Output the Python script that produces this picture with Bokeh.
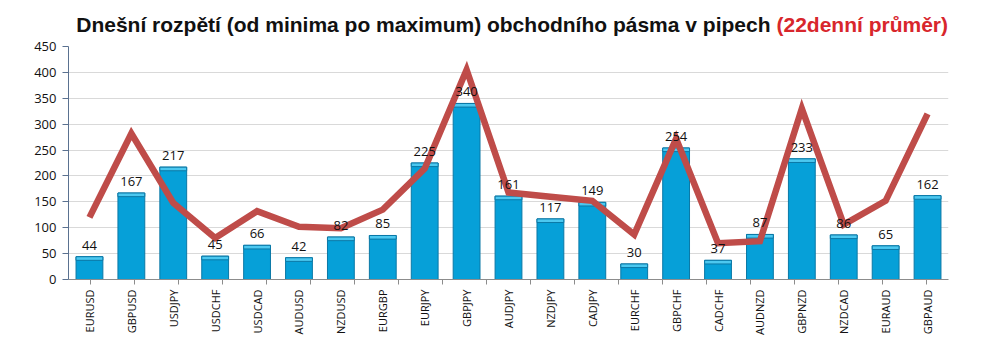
import numpy as np
from bokeh.plotting import figure
from bokeh.layouts import column
from bokeh.models import (FactorRange, Range1d, FixedTicker, CategoricalAxis, ColumnDataSource)
from bokeh.core.properties import value
from bokeh.embed import file_html
from bokeh.resources import INLINE

pairs = ["EURUSD", "GBPUSD", "USDJPY", "USDCHF", "USDCAD", "AUDUSD", "NZDUSD", "EURGBP",
         "EURJPY", "GBPJPY", "AUDJPY", "NZDJPY", "CADJPY", "EURCHF", "GBPCHF", "CADCHF",
         "AUDNZD", "GBPNZD", "NZDCAD", "EURAUD", "GBPAUD"]
today_range = [44, 167, 217, 45, 66, 42, 82, 85, 225, 340, 161, 117, 149, 30, 254, 37,
               87, 233, 86, 65, 162]
avg_22 = [120, 282, 148, 80, 132, 102, 99, 135, 214, 405, 168, 160, 152, 87, 272, 70,
          74, 330, 106, 152, 320]
y_ticks = [0, 50, 100, 150, 200, 250, 300, 350, 400, 450]
title_main = "Dnešní rozpětí (od minima po maximum) obchodního pásma v pipech"
title_red = "(22denní průměr)"

W = 996
BL, BR = 68, 48  # chart borders (the column aligns the title strip's frame to these)

# ---- title strip ----
th = 37
tf = figure(width=W, height=th, x_range=Range1d(BL, W - BR), y_range=Range1d(0, th),
            output_backend="svg", toolbar_location=None, x_axis_location=None,
            y_axis_location=None, min_border=0, min_border_left=BL, min_border_right=BR,
            outline_line_color=None,
            background_fill_color="white", border_fill_color="white")
tf.xgrid.visible = False
tf.ygrid.visible = False
tf.text(x=[770], y=[13], text=[title_main], text_align="right", text_baseline="middle",
        text_font=value("Liberation Sans"), text_font_style="bold", text_font_size="21px",
        text_color="#111111")
tf.text(x=[776], y=[13], text=[title_red], text_align="left", text_baseline="middle",
        text_font=value("Liberation Sans"), text_font_style="bold", text_font_size="21px",
        text_color="#d8262c")

# ---- chart ----
src = ColumnDataSource(dict(pair=pairs, val=today_range, avg=avg_22,
                            cap=[v - 7 for v in today_range],
                            lab=[str(v) for v in today_range]))

p = figure(x_range=FactorRange(*pairs), y_range=Range1d(0, 450),
           width=W, height=315, output_backend="svg", toolbar_location=None,
           x_axis_location=None, y_axis_location="left",
           min_border_left=BL, min_border_right=BR, min_border_top=9, min_border_bottom=73,
           background_fill_color="white", border_fill_color="white")
p.outline_line_color = None

# boundary range: one factor per category boundary, trimmed by half a step at each end
bounds = ["b%d" % i for i in range(len(pairs) + 1)]
p.extra_x_ranges = {"bounds": FactorRange(*bounds, range_padding=-1,
                                          range_padding_units="absolute")}

tick_axis = CategoricalAxis(x_range_name="bounds",
                            major_label_text_alpha=0, major_label_text_font_size="1px",
                            major_label_standoff=0,
                            axis_line_color="#8c8c8c", major_tick_line_color="#8c8c8c",
                            major_tick_out=5, major_tick_in=0)
p.add_layout(tick_axis, "below")

cat_axis = CategoricalAxis(axis_line_color=None, major_tick_line_color=None,
                           major_label_orientation=np.pi / 2,
                           major_label_text_font="Open Sans",
                           major_label_text_font_size="11px",
                           major_label_text_color="#111111",
                           major_label_standoff=-1)
p.add_layout(cat_axis, "below")

p.yaxis.ticker = FixedTicker(ticks=y_ticks)
p.yaxis.axis_line_color = "#5a7190"
p.yaxis.major_tick_line_color = "#5a7190"
p.yaxis.major_tick_out = 6
p.yaxis.major_tick_in = 0
p.yaxis.minor_tick_line_color = None
p.yaxis.major_label_text_font = "Open Sans"
p.yaxis.major_label_text_font_size = "13px"
p.yaxis.major_label_text_color = "#111111"
p.yaxis.major_label_standoff = 6

p.xgrid.grid_line_color = None
p.ygrid.grid_line_color = "#d9d9d9"
p.ygrid.ticker = FixedTicker(ticks=y_ticks)

p.vbar(x="pair", top="val", width=0.64, source=src,
       fill_color="#06a0d8", line_color="#0a78a6", line_width=1)
p.vbar(x="pair", top="val", bottom="cap", width=0.64, source=src,
       fill_color="#4cc8f0", line_color="#0a78a6", line_width=1)

p.line(x="pair", y="avg", source=src, line_color="#bf4c49", line_width=6.5,
       line_join="miter")

p.text(x="pair", y="val", text="lab", source=src, text_align="center",
       text_baseline="bottom", y_offset=-7, text_font=value("Open Sans"),
       text_font_size="13px", text_color="#111111")

layout = column(tf, p, spacing=0)
open("out.html", "w").write(file_html(layout, INLINE))
